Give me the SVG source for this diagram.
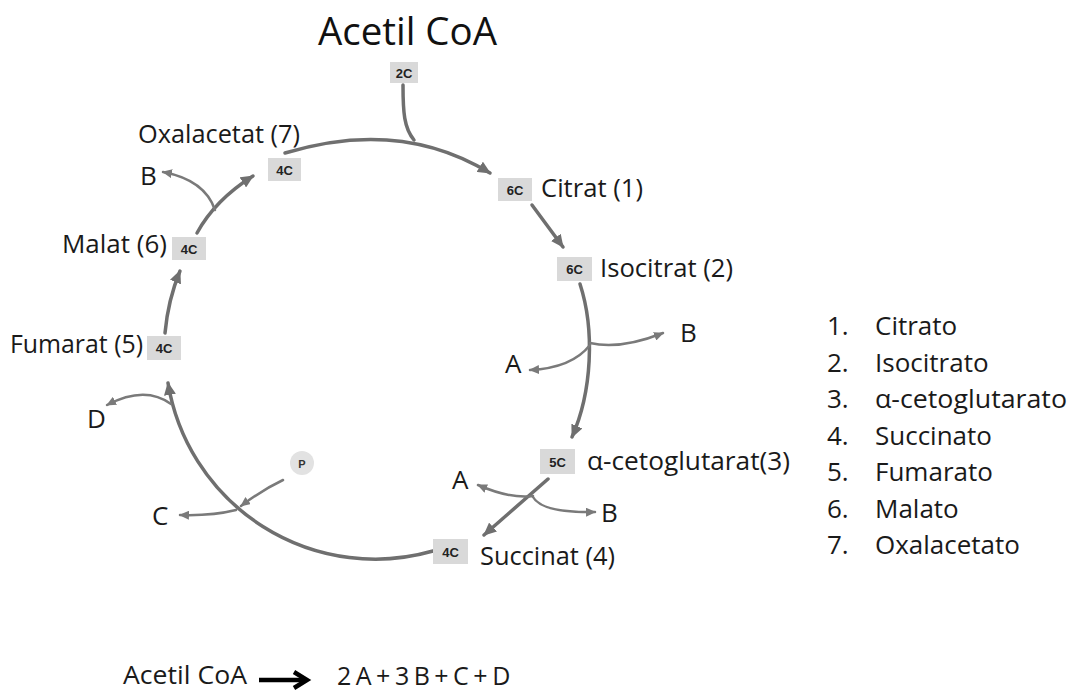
<svg xmlns="http://www.w3.org/2000/svg" width="1074" height="691" viewBox="0 0 1074 691">
<style>
.lbl{font-family:"Open Sans","Liberation Sans",sans-serif;font-size:25px;fill:#1a1a1a}
.let{font-family:"Open Sans","Liberation Sans",sans-serif;font-size:26px;fill:#1a1a1a}
.big{font-family:"Open Sans","Liberation Sans",sans-serif;font-size:38px;fill:#111}
.leg{font-family:"Open Sans","Liberation Sans",sans-serif;font-size:26px;fill:#1a1a1a}
.box rect{fill:#d9d9d9}
.box text{font-family:"Liberation Sans",Arial,sans-serif;font-size:13px;font-weight:bold;fill:#222;text-anchor:middle}
.main{fill:none;stroke:#6f6f6f;stroke-width:3.5;stroke-linecap:round}
.br{fill:none;stroke:#7a7a7a;stroke-width:2.5;stroke-linecap:round}
</style>
<defs>
<marker id="ah" markerUnits="userSpaceOnUse" markerWidth="14" markerHeight="12" refX="12" refY="6" orient="auto">
<path d="M0,0 L13,6 L0,12 Z" fill="#6f6f6f"/>
</marker>
<marker id="ahs" markerUnits="userSpaceOnUse" markerWidth="10" markerHeight="9" refX="9" refY="4.5" orient="auto">
<path d="M0,0 L10,4.5 L0,9 Z" fill="#7a7a7a"/>
</marker>
</defs>
<rect width="1074" height="691" fill="#fff"/>

<g id="connectors">
<path class="main" d="M285,153 Q400,118 490,173" marker-end="url(#ah)"/>
<path class="main" d="M403,85 C403,112 404,128 414,140"/>
<path class="main" d="M532,205 L563,247" marker-end="url(#ah)"/>
<path class="main" d="M580,284 C595,330 592,392 572,437" marker-end="url(#ah)"/>
<path class="br" d="M590,343 Q620,350 663,333" marker-end="url(#ahs)"/>
<path class="br" d="M590,345 Q572,368 530,370" marker-end="url(#ahs)"/>
<path class="main" d="M548,479 L484,535" marker-end="url(#ah)"/>
<path class="br" d="M533,496 Q510,499 478,485" marker-end="url(#ahs)"/>
<path class="br" d="M533,497 Q542,513 595,512" marker-end="url(#ahs)"/>
<path class="main" d="M433,551 A210,210 0 0 1 168,383" marker-end="url(#ah)"/>
<path class="br" d="M171,404 Q145,385 107,405" marker-end="url(#ahs)"/>
<path class="br" d="M283,480 Q262,490 241,506" marker-end="url(#ahs)"/>
<path class="br" d="M236,510 Q212,516 180,515" marker-end="url(#ahs)"/>
<path class="main" d="M165,333 Q168,300 180,271" marker-end="url(#ah)"/>
<path class="main" d="M197,233 Q215,200 253,176" marker-end="url(#ah)"/>
<path class="br" d="M215,210 Q205,180 163,172" marker-end="url(#ahs)"/>
<path d="M259,680 L305,680" stroke="#000" stroke-width="4.5" fill="none"/>
<path d="M294,672 L307,680 L294,688" stroke="#000" stroke-width="4.5" fill="none" stroke-linejoin="miter"/>
</g>

<g id="title"><text class="big" x="318" y="45" textLength="179" lengthAdjust="spacingAndGlyphs">Acetil CoA</text></g>
<g id="n2c" class="box"><rect x="390" y="62" width="28" height="21"/><text x="404" y="77.5">2C</text></g>

<g id="citrat"><g class="box"><rect x="498" y="178" width="34" height="23"/><text x="515" y="194.5">6C</text></g>
<text class="lbl" x="541" y="197" textLength="102" lengthAdjust="spacingAndGlyphs">Citrat (1)</text></g>

<g id="isocitrat"><g class="box"><rect x="557" y="257" width="35" height="24"/><text x="574.5" y="273.5">6C</text></g>
<text class="lbl" x="600" y="277" textLength="133" lengthAdjust="spacingAndGlyphs">Isocitrat (2)</text>
<text class="let" x="680" y="342">B</text><text class="let" x="505" y="373">A</text></g>

<g id="cetoglutarat"><g class="box"><rect x="540" y="449" width="35" height="25"/><text x="557.5" y="466.5">5C</text></g>
<text class="lbl" x="587" y="470" textLength="203" lengthAdjust="spacingAndGlyphs">α-cetoglutarat(3)</text>
<text class="let" x="452" y="489">A</text><text class="let" x="601" y="522">B</text></g>

<g id="succinat"><g class="box"><rect x="433" y="539" width="35" height="25"/><text x="450.5" y="556.5">4C</text></g>
<text class="lbl" x="480" y="565" textLength="135" lengthAdjust="spacingAndGlyphs">Succinat (4)</text></g>

<g id="pnode"><circle cx="302" cy="463" r="12" fill="#e2e2e2"/><text x="302" y="467.5" font-family="Liberation Sans,Arial,sans-serif" font-size="11" font-weight="bold" fill="#333" text-anchor="middle">P</text>
<text class="let" x="152" y="525">C</text><text class="let" x="87" y="428">D</text></g>

<g id="fumarat"><g class="box"><rect x="147" y="336" width="34" height="24"/><text x="164" y="352.5">4C</text></g>
<text class="lbl" x="10" y="353" textLength="133" lengthAdjust="spacingAndGlyphs">Fumarat (5)</text></g>

<g id="malat"><g class="box"><rect x="172" y="237" width="34" height="23"/><text x="189" y="253.5">4C</text></g>
<text class="lbl" x="62" y="253" textLength="105" lengthAdjust="spacingAndGlyphs">Malat (6)</text></g>

<g id="oxalacetat"><g class="box"><rect x="268" y="158" width="33" height="23"/><text x="284.5" y="174.5">4C</text></g>
<text class="lbl" x="138" y="143" textLength="162" lengthAdjust="spacingAndGlyphs">Oxalacetat (7)</text>
<text class="let" x="140" y="185">B</text></g>

<g id="legend" class="leg">
<text x="827" y="335">1.</text><text x="875" y="335">Citrato</text>
<text x="827" y="371.5">2.</text><text x="875" y="371.5">Isocitrato</text>
<text x="827" y="408">3.</text><text x="875" y="408" textLength="192" lengthAdjust="spacingAndGlyphs">α-cetoglutarato</text>
<text x="827" y="444.5">4.</text><text x="875" y="444.5">Succinato</text>
<text x="827" y="481">5.</text><text x="875" y="481">Fumarato</text>
<text x="827" y="517.5">6.</text><text x="875" y="517.5">Malato</text>
<text x="827" y="554">7.</text><text x="875" y="554">Oxalacetato</text>
</g>

<g id="equation">
<text class="lbl" x="123" y="684" textLength="124" lengthAdjust="spacingAndGlyphs">Acetil CoA</text>
<text class="lbl" x="337" y="685" font-size="23" word-spacing="-2">2 A + 3 B + C + D</text>
</g>
</svg>
